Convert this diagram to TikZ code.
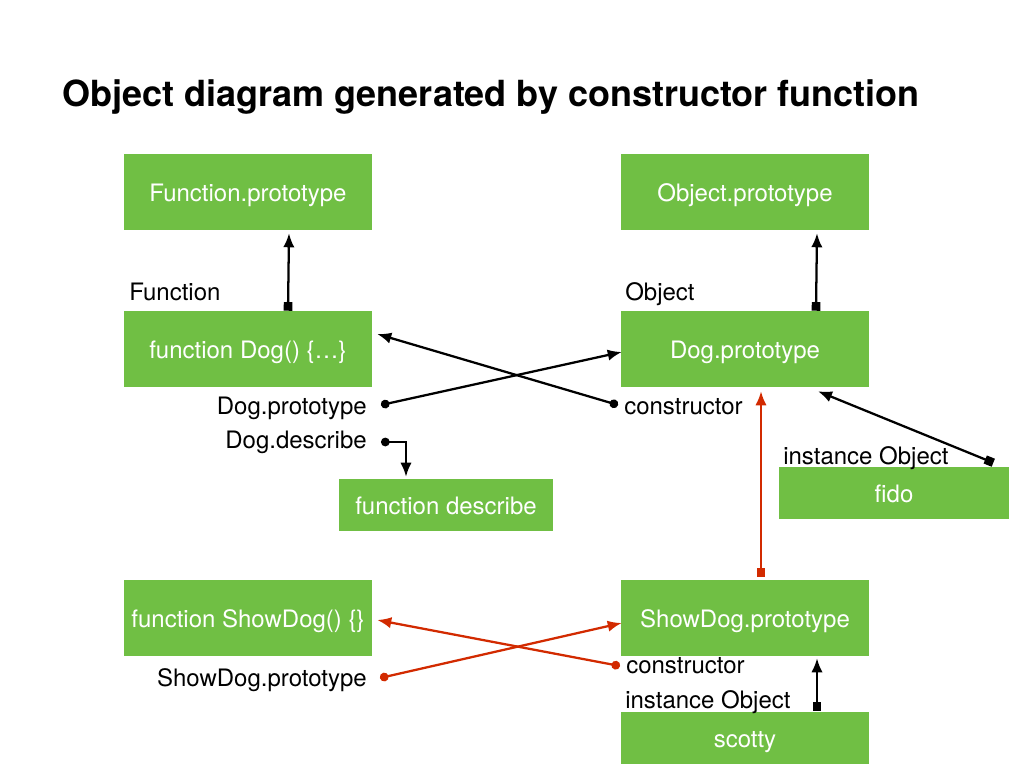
\documentclass[tikz,border=0pt]{standalone}
\usepackage{fontspec}
\setmainfont{TeX Gyre Heros}
\usetikzlibrary{arrows.meta,calc}

\definecolor{boxgreen}{RGB}{112,191,68}
\definecolor{protored}{RGB}{210,42,0}

\tikzset{
  objbox/.style={fill=boxgreen,text=white,inner sep=0pt,
    text height=15pt,text depth=1.5pt,
    minimum width=186pt,minimum height=57pt,font=\fontsize{18}{21}\selectfont},
  smallbox/.style={objbox,minimum height=39pt},
  lbl/.style={inner sep=0pt,font=\fontsize{18}{21}\selectfont},
  sqlink/.style={line width=1.7pt,
    arrows={Square[length=6.5pt,width=6.5pt]-Latex[length=10.5pt,width=8.5pt]}},
  dotlink/.style={line width=1.7pt,
    arrows={Circle[length=6.5pt,width=6.5pt]-Latex[length=10.5pt,width=8.5pt]}},
}

\begin{document}
\begin{tikzpicture}[x=0.75pt,y=-0.75pt]
\useasboundingbox (0,0) rectangle (1024,768);

\node[anchor=base west,inner sep=0pt,font=\fontsize{27}{31}\selectfont\bfseries] (title) at (62,106)
  {Object diagram generated by constructor function};

% boxes
\node[objbox] (fnproto) at (248,192) {Function.prototype};
\node[objbox] (objproto) at (745,192) {Object.prototype};
\node[objbox] (dogfn) at (248,349) {function Dog() \{\dots\}};
\node[objbox] (dogproto) at (745,349) {Dog.prototype};
\node[smallbox,minimum width=160.5pt] (describe) at (446,505) {function describe};
\node[smallbox,minimum width=172.5pt] (fido) at (894,493) {fido};
\node[objbox] (showfn) at (248,618) {function ShowDog() \{\}};
\node[objbox] (showproto) at (745,618) {ShowDog.prototype};
\node[smallbox] (scotty) at (745,738) {scotty};

% labels
\node[lbl,anchor=base west] (fnlbl) at (129,300) {Function};
\node[lbl,anchor=base west] (objlbl) at (625,300) {Object};
\node[lbl,anchor=base east] (dplbl) at (367,414) {Dog.prototype};
\node[lbl,anchor=base east] (ddlbl) at (367,448) {Dog.describe};
\node[lbl,anchor=base west] (ctorlbl) at (624,414) {constructor};
\node[lbl,anchor=base west] (fidolbl) at (783,464) {instance Object};
\node[lbl,anchor=base east] (sdplbl) at (367,686) {ShowDog.prototype};
\node[lbl,anchor=base west] (sctorlbl) at (626,673) {constructor};
\node[lbl,anchor=base west] (scottylbl) at (625,708) {instance Object};

\coordinate (dpdot) at (381,405);
\coordinate (dddot) at (381,442);
\coordinate (ctordot) at (618,405);
\coordinate (sdpdot) at (380,678);
\coordinate (sctordot) at (620,666);

% links
\draw[sqlink] ($(dogfn.north)+(40,0)$) -- ($(fnproto.south)+(41,3)$);
\draw[sqlink] ($(dogproto.north)+(71,0)$) -- ($(objproto.south)+(72,3)$);
\draw[dotlink] (dpdot) -- ($(dogproto.west)+(1,3)$);
\draw[dotlink] (ctordot) -- ($(dogfn.east)+(5,-15)$);
\draw[dotlink] (dddot) -| ($(describe.north)+(-40,-2)$);
\draw[sqlink] ($(fido.north east)+(-16,-4)$) -- ($(dogproto.south)+(73,4)$);
\draw[sqlink,protored] ($(showproto.north)+(16,-3)$) -- ($(dogproto.south)+(16,4)$);
\draw[dotlink,protored] (sdpdot) -- ($(showproto.west)+(1,5)$);
\draw[dotlink,protored] (sctordot) -- ($(showfn.east)+(5,2)$);
\draw[sqlink] ($(scotty.north)+(72,-1)$) -- ($(showproto.south)+(72,2)$);

\end{tikzpicture}
\end{document}
